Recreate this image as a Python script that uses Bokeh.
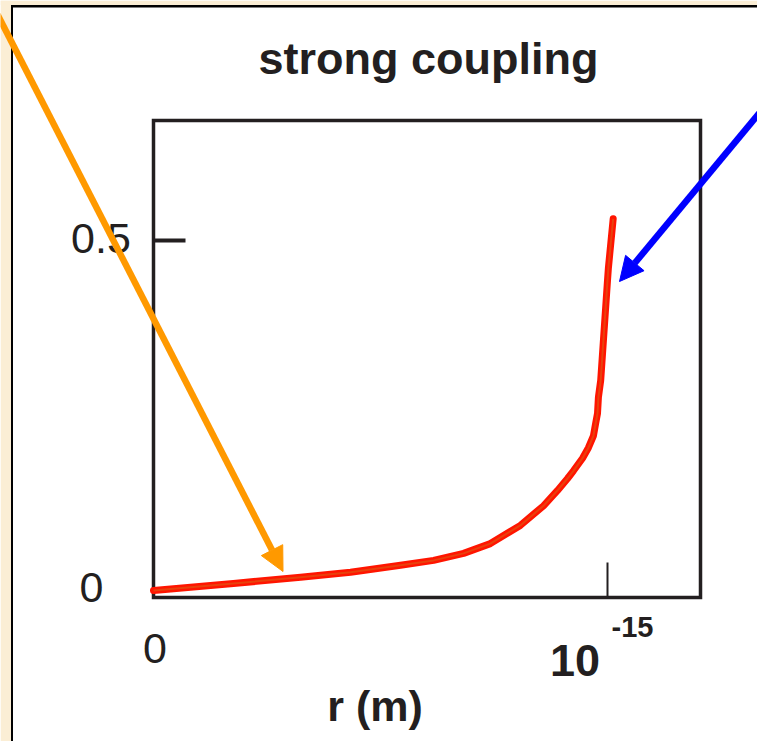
import math
from bokeh.plotting import figure
from bokeh.models import Range1d, Arrow, NormalHead
from bokeh.core.properties import value
from bokeh.embed import file_html
from bokeh.resources import INLINE

# ---- data (r in units of 1e-15 m) ----
r_values = [0.0, 0.176, 0.324, 0.434, 0.544, 0.617, 0.683, 0.742, 0.808,
            0.859, 0.890, 0.912, 0.925, 0.945, 0.958, 0.969, 0.974, 0.978,
            0.980, 0.985, 1.000, 1.002, 1.0125]
coupling_values = [0.0, 0.010, 0.019, 0.026, 0.036, 0.043, 0.053, 0.067, 0.093,
                   0.121, 0.143, 0.160, 0.171, 0.189, 0.204, 0.221, 0.239, 0.253,
                   0.276, 0.300, 0.443, 0.461, 0.531]
y_ticks = [0, 0.5]
y_tick_labels = ["0", "0.5"]
x_ticks = [0, 1]
x_tick_labels = ["0", "10"]
x_exponent = "-15"
title_text = "strong coupling"
x_label_text = "r (m)"

INK = "#231f20"
FONT = value("Liberation Sans")
W, H = 757, 741

# layout: pixel position of data origin and pixels per data unit
X0, XS = 153.0, 454.0
Y0, YS = 590.0, 700.0


def dx(px):
    return (px - X0) / XS


def dy(py):
    return (Y0 - py) / YS


p = figure(width=W, height=H,
           x_range=Range1d(dx(0), dx(W)), y_range=Range1d(dy(H), dy(0)),
           x_axis_location=None, y_axis_location=None,
           min_border=0, outline_line_color=None,
           output_backend="svg", toolbar_location=None,
           background_fill_color="white", border_fill_color="white")
p.xgrid.visible = False
p.ygrid.visible = False

# slide panel edges
BEIGE = "#fbeed5"
p.quad(left=[dx(0)], right=[dx(10.5)], top=[dy(0)], bottom=[dy(H)],
       fill_color=BEIGE, line_color=None)
p.quad(left=[dx(0)], right=[dx(W)], top=[dy(0)], bottom=[dy(4.5)],
       fill_color=BEIGE, line_color=None)
p.quad(left=[dx(10.5)], right=[dx(12.5)], top=[dy(4.5)], bottom=[dy(H)],
       fill_color="black", line_color=None)
p.quad(left=[dx(10.5)], right=[dx(W)], top=[dy(4.5)], bottom=[dy(7)],
       fill_color="black", line_color=None)

# plot box
x_end = dx(700)
y_start, y_end = dy(597), dy(120)
p.quad(left=[x_ticks[0]], right=[x_end], bottom=[y_start], top=[y_end],
       fill_color="white", line_color=INK, line_width=3.5, line_join="miter")

# inward ticks
p.ray(x=[x_ticks[0]], y=[y_ticks[1]], length=32, angle=0, length_units="screen",
      line_color=INK, line_width=4)
p.ray(x=[x_ticks[1]], y=[y_start], length=35, angle=math.pi / 2, length_units="screen",
      line_color=INK, line_width=2)

# curve
p.line(r_values, coupling_values, line_color="#ff1500", line_width=7,
       line_join="round", line_cap="round")
p.line(r_values, coupling_values, line_color="#e8420c", line_width=2, line_join="round")

# tick labels (anchored at the visual centre of the glyphs)
p.text(x=[x_ticks[0] - 52.5 / XS], y=[y_ticks[1] + 2 / YS], text=[y_tick_labels[1]],
       text_align="center", text_baseline="middle",
       text_font=FONT, text_font_size="43px", text_color=INK)
p.text(x=[x_ticks[0] - 62 / XS], y=[y_ticks[0] + 3.5 / YS], text=[y_tick_labels[0]],
       text_align="center", text_baseline="middle",
       text_font=FONT, text_font_size="43px", text_color=INK)
p.text(x=[x_ticks[0] + 1.5 / XS], y=[y_ticks[0] - 58 / YS], text=[x_tick_labels[0]],
       text_align="center", text_baseline="middle",
       text_font=FONT, text_font_size="43px", text_color=INK)
p.text(x=[x_ticks[1] - 32.5 / XS], y=[y_ticks[0] - 70 / YS], text=[x_tick_labels[1]],
       text_align="center", text_baseline="middle",
       text_font=FONT, text_font_size="45px", text_font_style="bold", text_color=INK)
p.text(x=[x_ticks[1] + 4 / XS], y=[y_ticks[0] - 36.5 / YS], text=[x_exponent],
       text_align="left", text_baseline="middle",
       text_font=FONT, text_font_size="29px", text_font_style="bold", text_color=INK)

# title and axis label
p.text(x=[dx(428)], y=[dy(58)], text=[title_text],
       text_align="center", text_baseline="middle",
       text_font=FONT, text_font_size="45px", text_font_style="bold", text_color=INK)
p.text(x=[dx(374.5)], y=[dy(705)], text=[x_label_text],
       text_align="center", text_baseline="middle",
       text_font=FONT, text_font_size="43px", text_font_style="bold", text_color=INK)

# arrows
ORANGE = "#ff9900"
BLUE = "#0000ff"
p.add_layout(Arrow(x_start=dx(-5), y_start=dy(10), x_end=dx(282.5), y_end=dy(571),
                   line_color=ORANGE, line_width=6.5,
                   end=NormalHead(size=24, fill_color=ORANGE, line_color=ORANGE)))
p.add_layout(Arrow(x_start=dx(775), y_start=dy(93), x_end=dx(619), y_end=dy(281),
                   line_color=BLUE, line_width=6.5,
                   end=NormalHead(size=24, fill_color=BLUE, line_color=BLUE)))

open("out.html", "w").write(file_html(p, INLINE))
